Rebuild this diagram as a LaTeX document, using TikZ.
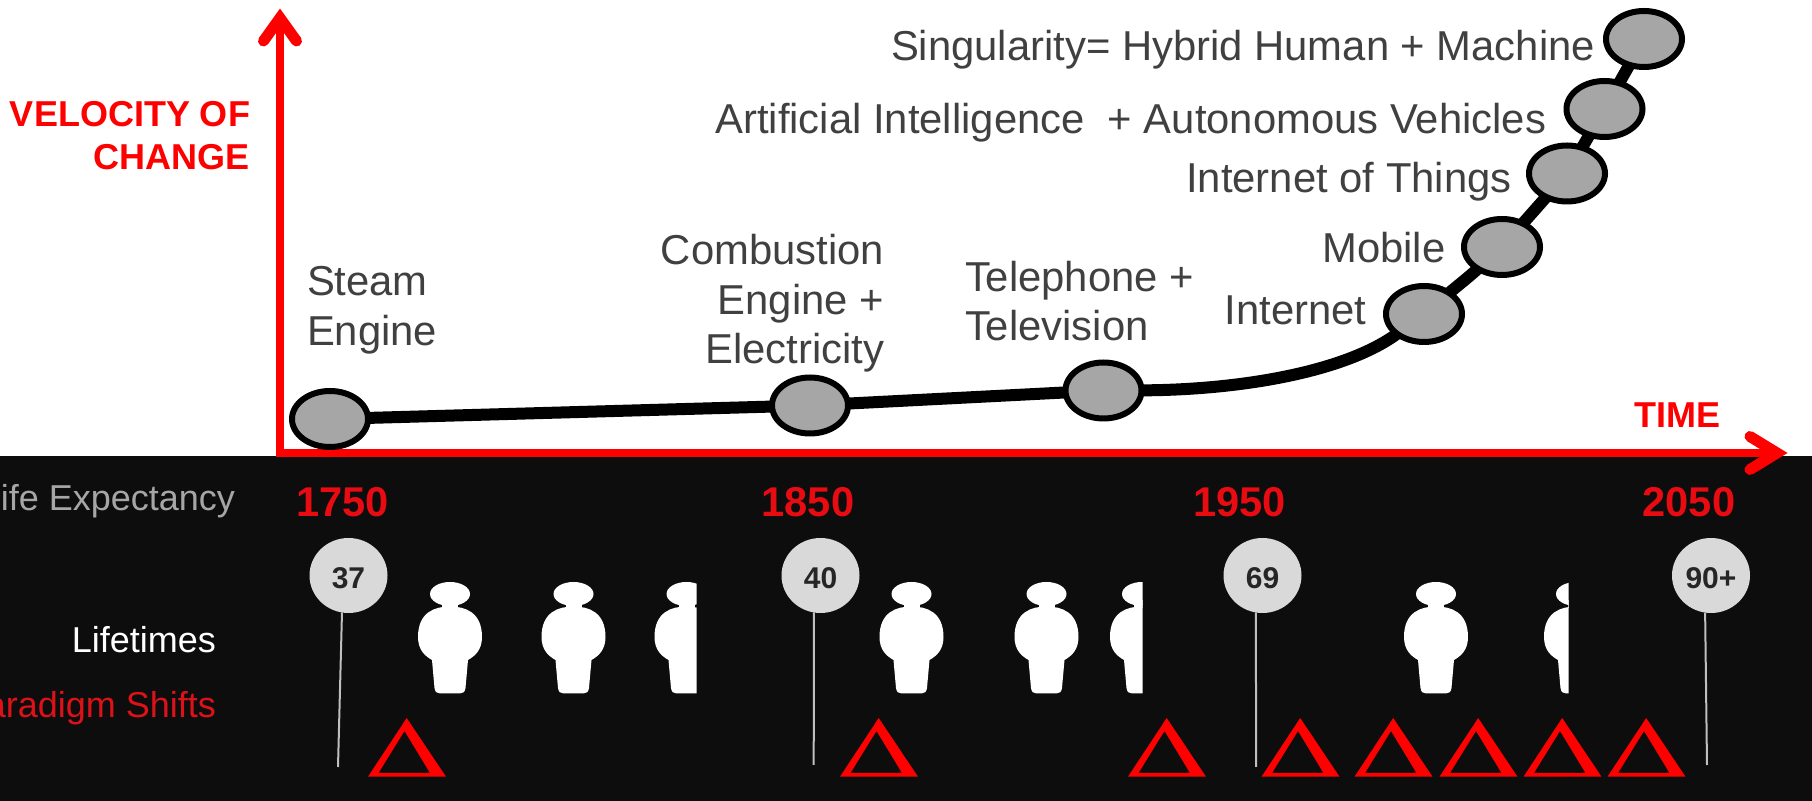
\documentclass[tikz,border=0pt]{standalone}
\usepackage{fontspec}
\setmainfont{Liberation Sans}
\usetikzlibrary{shapes.geometric}
\definecolor{band}{HTML}{0D0D0D}
\definecolor{axisred}{HTML}{FF0000}
\definecolor{yearred}{HTML}{E80C12}
\definecolor{shiftred}{HTML}{DC1218}
\definecolor{ink}{HTML}{404040}
\definecolor{stone}{HTML}{A6A6A6}
\definecolor{pale}{HTML}{D9D9D9}
\definecolor{stem}{HTML}{BFBFBF}
\definecolor{pinink}{HTML}{262626}
\tikzset{
  milestone/.style={ellipse,draw=black,fill=stone,line width=3pt,minimum width=38pt,minimum height=28pt,inner sep=0pt,outer sep=0pt},
  curveline/.style={line width=6pt,black},
  axisline/.style={line width=4pt,axisred},
  axishead/.style={line width=5.5pt,axisred,line cap=round,miter limit=20},
  lbl/.style={inner sep=0pt,outer sep=0pt,text=ink,font=\fontsize{20.9}{24.75}\selectfont},
  boldred/.style={inner sep=0pt,outer sep=0pt,text=axisred,font=\bfseries\fontsize{18}{21.5}\selectfont},
  year/.style={inner sep=0pt,outer sep=0pt,text=yearred,font=\bfseries\fontsize{20.8}{24}\selectfont,anchor=base},
  rowlbl/.style={inner sep=0pt,outer sep=0pt,font=\fontsize{18}{22}\selectfont,anchor=base east},
  pin/.style={ellipse,fill=pale,minimum width=39pt,minimum height=37.5pt,inner sep=0pt,outer sep=0pt,text=pinink,font=\bfseries\fontsize{15}{18}\selectfont},
  pinstem/.style={line width=1pt,stem},
}
\newcommand{\pinnum}[1]{\raisebox{-1.2pt}[\height][0pt]{#1}}
\newcommand{\personfig}[1]{%
  \begin{scope}[shift={(#1,0)}]
    \fill[white] (0,594) ellipse [x radius=20,y radius=12];
    \fill[white] (-8,600) rectangle (8,608);
    \fill[white] (0,606.5) .. controls (15,606.5) and (32,612) .. (32,637)
      .. controls (32,650) and (25,656) .. (18,660) -- (15.5,688)
      .. controls (15,692) and (13,693.5) .. (10,693.5) -- (-10,693.5)
      .. controls (-13,693.5) and (-15,692) .. (-15.5,688) -- (-18,660)
      .. controls (-25,656) and (-32,650) .. (-32,637)
      .. controls (-32,612) and (-15,606.5) .. (0,606.5) -- cycle;
  \end{scope}}
\newcommand{\personcut}[2]{%
  \begin{scope}
    \clip (0,560) rectangle (#2,720);
    \personfig{#1}
  \end{scope}}
\newcommand{\shiftmark}[1]{%
  \fill[axisred,even odd rule,shift={(#1,0)}] (0,776.7) -- (38.7,718) -- (78,776.7) -- cycle
    (10.5,773) -- (36.5,731) -- (62,773) -- cycle;}
\begin{document}
\begin{tikzpicture}[x=0.5pt,y=-0.5pt]
\useasboundingbox (0,0) rectangle (1812,801);
\clip (0,0) rectangle (1812,801);
\fill[white] (0,0) rectangle (1812,456);
\fill[band] (0,456) rectangle (1812,801);

% axes
\coordinate (origin) at (280,453);
\coordinate (ytip) at (280,18);
\coordinate (xtip) at (1777,453);
\draw[axisline,line cap=butt] (ytip) -- (origin) -- (xtip);
\draw[axishead] (263.5,41) -- (ytip) -- (296.5,41);
\draw[axishead] (1750,436.5) -- (xtip) -- (1750,469.5);

% milestones
\node[milestone] (steam) at (330,419) {};
\node[milestone] (combustion) at (810,405.5) {};
\node[milestone] (telephone) at (1103.5,390.5) {};
\node[milestone] (internet) at (1424,314) {};
\node[milestone] (mobile) at (1502,247) {};
\node[milestone] (iot) at (1567,173.5) {};
\node[milestone] (ai) at (1604.5,109) {};
\node[milestone] (singularity) at (1644,39) {};

\draw[curveline] (steam) -- (combustion);
\draw[curveline] (combustion) -- (telephone);
\draw[curveline] (telephone) .. controls (1240,390) and (1345,372) .. (internet);
\draw[curveline] (internet) to[out=40,in=222] (mobile);
\draw[curveline] (mobile) -- (iot);
\draw[curveline] (iot) -- (ai);
\draw[curveline] (ai) -- (singularity);

% labels
\node[lbl,anchor=base east] (tsing) at (1595,60.5) {Singularity= Hybrid Human + Machine};
\node[lbl,anchor=base east] (tai) at (1546,133.5) {Artificial Intelligence\ \ + Autonomous Vehicles};
\node[lbl,anchor=base east] (tiot) at (1511.5,192.5) {Internet of Things};
\node[lbl,anchor=base east] (tmob) at (1445.5,263) {Mobile};
\node[lbl,anchor=base east] (tint) at (1366.5,325) {Internet};
\node[lbl,anchor=base west,align=left] (tsteam) at (307,345.5) {Steam\\Engine};
\node[lbl,anchor=base east,align=right] (tcomb) at (884,364) {Combustion\\Engine +\\Electricity};
\node[lbl,anchor=base west,align=left] (ttel) at (965,341) {Telephone +\\Television};
\node[boldred,anchor=base east,align=right] (tvel) at (250,170) {VELOCITY OF\\CHANGE};
\node[boldred,anchor=base east] (ttime) at (1720,427.5) {TIME};

% years
\node[year] (y1750) at (342.5,517) {1750};
\node[year] (y1850) at (808,517) {1850};
\node[year] (y1950) at (1239.5,517) {1950};
\node[year] (y2050) at (1689,517) {2050};

% row labels
\node[rowlbl,text=stone] (rlife) at (235,511) {Life Expectancy};
\node[rowlbl,text=white] (rlifetimes) at (216,652.5) {Lifetimes};
\node[rowlbl,text=shiftred] (rshift) at (216,717.5) {Paradigm Shifts};

% pins
\node[pin] (p37) at (348.5,575.5) {\pinnum{37}};
\node[pin] (p40) at (820.5,575.5) {\pinnum{40}};
\node[pin] (p69) at (1262.5,575.5) {\pinnum{69}};
\node[pin] (p90) at (1711,575.5) {\pinnum{90+}};
\coordinate (e37) at (338,767);
\coordinate (e40) at (813.7,765);
\coordinate (e69) at (1256,767);
\coordinate (e90) at (1707,765);
\draw[pinstem] (p37.-100) -- (e37);
\draw[pinstem] (p40.-100) -- (e40);
\draw[pinstem] (p69.-100) -- (e69);
\draw[pinstem] (p90.-99) -- (e90);

% lifetimes figures
\personfig{450}
\personfig{573.5}
\personcut{686.5}{696.7}
\personfig{911.5}
\personfig{1046.5}
\personcut{1142}{1142.7}
\personfig{1436}
\personcut{1576}{1568.6}

% paradigm shift triangles
\shiftmark{368}
\shiftmark{840}
\shiftmark{1128}
\shiftmark{1261.5}
\shiftmark{1354.5}
\shiftmark{1439.5}
\shiftmark{1523.5}
\shiftmark{1607.5}
\end{tikzpicture}
\end{document}
